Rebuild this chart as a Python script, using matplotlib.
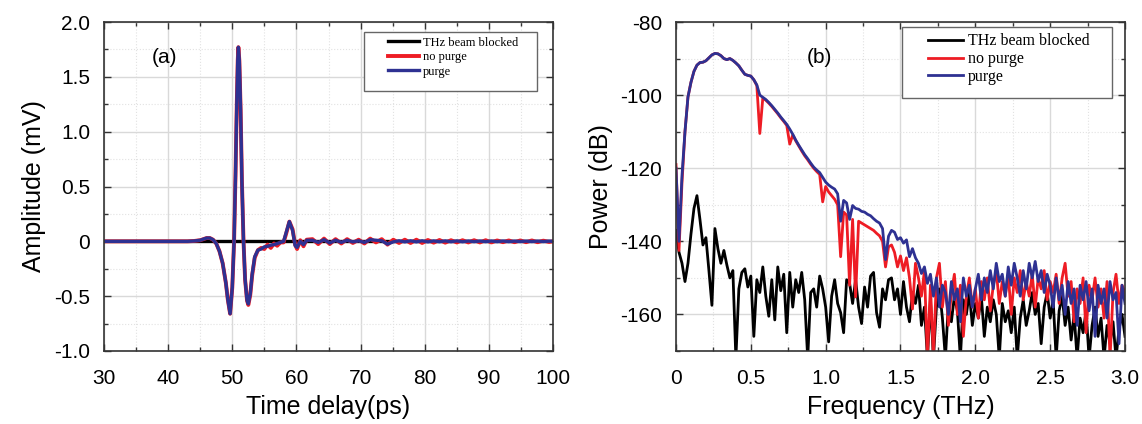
import numpy as np
import matplotlib.pyplot as plt
from matplotlib.ticker import MultipleLocator, FuncFormatter
from matplotlib.patches import Rectangle

plt.rcParams['font.family'] = ['Liberation Sans', 'DejaVu Sans']
plt.rcParams['axes.unicode_minus'] = False

# ---------- (a) time domain ----------
t_ps = [30, 40, 43, 44, 45, 45.5, 46, 46.5, 47, 47.5, 48, 48.5, 49, 49.3, 49.66, 50.0,
        50.28, 50.5, 50.7, 50.85, 50.95, 51.1, 51.3, 51.5, 51.75, 52.0, 52.3, 52.5, 52.8,
        53.1, 53.5, 54.0, 54.5, 55.0, 55.5, 56.0, 56.5, 57.0, 57.5, 58.0, 58.4, 58.9,
        59.4, 59.8, 60.1, 60.6, 61.1, 61.6,
        62.5, 63.4, 64.3, 65.2, 66.1, 67.0, 67.9, 68.8, 69.7, 70.6, 71.5, 72.4, 73.3,
        74.2, 75.1, 76.0, 76.9, 77.8, 78.7, 79.6, 80.5, 81.4, 82.3, 83.2, 84.1, 85.0,
        85.9, 86.8, 87.7, 88.6, 89.5, 90.4, 91.3, 92.2, 93.1, 94.0, 94.9, 95.8, 96.7,
        97.6, 98.5, 99.4, 100.0]

amp_purge = [0, 0, 0, 0.003, 0.01, 0.02, 0.03, 0.03, 0.015, -0.02, -0.09, -0.2, -0.38,
             -0.53, -0.66, -0.42, 0.0, 0.6, 1.25, 1.65, 1.77, 1.65, 1.2, 0.55, 0.0, -0.35,
             -0.54, -0.57, -0.48, -0.3, -0.14, -0.08, -0.07, -0.05, -0.045, -0.035, -0.03,
             -0.02, -0.01, 0.0, 0.08, 0.18, 0.1, -0.04, -0.055, 0.0, -0.03, 0.01,
             0.01, -0.01, 0.015, -0.015, 0.01, -0.01, 0.01, -0.005, 0.005, -0.01, 0.015,
             0.01, 0.005, -0.025, -0.005, 0.005, -0.005, 0.005, -0.005, 0.005, -0.005,
             0.004, -0.004, 0.004, -0.004, 0.004, -0.004, 0.003, -0.003, 0.003, -0.003,
             0.003, -0.003, 0.003, -0.003, 0.002, -0.002, 0.002, -0.002, 0.002, -0.002,
             0.002, 0.0]

amp_nopurge = [0, 0, 0, 0.003, 0.01, 0.02, 0.03, 0.03, 0.015, -0.02, -0.09, -0.2, -0.38,
               -0.53, -0.66, -0.42, 0.0, 0.6, 1.25, 1.65, 1.77, 1.65, 1.2, 0.55, 0.0, -0.35,
               -0.54, -0.58, -0.49, -0.31, -0.15, -0.08, -0.06, -0.07, -0.03, -0.06, -0.02,
               -0.04, -0.01, -0.01, 0.07, 0.18, 0.11, -0.03, -0.07, 0.01, -0.045, 0.015,
               0.02, -0.025, 0.025, -0.025, 0.02, -0.02, 0.02, -0.015, 0.015, -0.02, 0.025,
               -0.01, 0.02, -0.03, 0.015, -0.015, 0.015, -0.015, 0.015, -0.015, 0.012,
               -0.012, 0.012, -0.012, 0.01, -0.01, 0.01, -0.01, 0.01, -0.01, 0.01, -0.01,
               0.008, -0.008, 0.008, -0.008, 0.008, -0.008, 0.008, -0.008, 0.006, -0.006,
               0.0]

t_blocked = [30, 100]
amp_blocked = [0, 0]

# ---------- (b) spectrum ----------
freq_thz = [round(0.02 * i, 2) for i in range(151)]

pow_purge = [-120, -140, -122, -110, -100.5, -96.5, -93.5, -91.8, -91.1, -91.0,
             -90.6, -89.8, -89.0, -88.6, -88.7, -89.2, -90.0, -90.3, -90.0, -90.5,
             -91.2, -92.0, -93.2, -94.3, -94.6, -94.8, -95.8, -97.2, -100.0, -100.6,
             -101.2, -102.0, -102.9, -103.9, -104.9, -106.0, -107.0, -108.0, -109.3, -110.7,
             -112.3, -113.7, -115.0, -116.3, -117.4, -118.6, -119.7, -120.5, -121.2, -122.5,
             -123.8, -124.6, -125.2, -125.7, -127.0, -134.5, -128.8, -129.5, -134.0, -130.2,
             -131.0, -131.2, -131.8, -132.0, -132.6, -133.0, -133.8, -134.5, -135.0, -136.5,
             -145.0, -138.6, -137.0, -137.5, -139.5, -139.0, -140.5, -139.6, -144.2, -142.0,
             -144.5, -146.0, -148.8, -147.0, -151.5, -149.0, -155, -150, -158, -152,
             -154, -160, -151, -156, -153, -162, -150, -155, -152, -158,
             -153, -149, -156, -150, -154, -148, -153, -146, -151, -149,
             -155, -147, -152, -146, -150, -155, -148, -153, -146, -150,
             -145.5, -151, -148, -154, -149, -152, -158, -150, -156, -152,
             -160, -151, -157, -153, -163, -152, -156, -151, -159, -153,
             -166, -152, -157, -153, -161, -151, -156, -154, -168, -152, -157]

pow_nopurge = [-119, -142.5, -124, -110, -100.5, -96.5, -93.5, -91.8, -91.1, -91.0,
               -90.6, -89.8, -89.0, -88.6, -88.7, -89.2, -90.0, -90.3, -90.0, -90.5,
               -91.2, -92.0, -93.2, -94.3, -94.6, -94.8, -95.8, -97.4, -110.5, -100.8,
               -101.4, -102.2, -103.1, -104.1, -105.1, -106.2, -107.2, -108.3, -113.4, -110.9,
               -112.5, -113.9, -115.3, -116.6, -117.7, -118.9, -120.0, -120.9, -121.7, -129.2,
               -125.0, -126.5, -127.5, -128.5, -130.0, -144.2, -132.0, -132.8, -152.0, -134.0,
               -155.2, -134.5, -135.0, -135.5, -136.0, -136.5, -137.0, -137.8, -138.5, -140.0,
               -147.0, -141.5, -141.0, -143.0, -147.0, -144.0, -148.0, -144.5, -150.0, -158.5,
               -146.0, -150.0, -155.0, -148.0, -172.0, -152.0, -172.0, -150.0, -146.0, -158.0,
               -151, -163, -154, -149, -160, -152, -166, -155, -150, -158,
               -153, -161, -151, -156, -150, -159, -152, -148, -157, -151,
               -155, -149, -160, -150, -154, -148, -156, -151, -155, -149,
               -158, -150, -153, -148, -156, -151, -154, -149, -157, -150,
               -146, -155, -151, -162, -153, -157, -150, -165, -152, -156,
               -150, -158, -153, -161, -151, -172, -154, -149, -157, -152, -154]

pow_blocked = [-137, -143, -146, -151, -146, -138, -131, -127.5, -134, -141,
               -139, -148, -157.5, -136.5, -142, -146, -142.5, -146.5, -150, -148,
               -172, -153, -148.5, -147.5, -152.5, -149.5, -166, -150.5, -154, -147,
               -155, -160.5, -150.5, -161.5, -147, -153.5, -149, -165, -148.5, -158,
               -150.5, -154, -148.5, -156, -172, -154, -153, -158, -149.5, -153,
               -158, -167.5, -155, -150.5, -157, -159.5, -165, -150.5, -151.5, -157,
               -150.5, -158, -162.5, -152.5, -158, -149.5, -148.5, -159.5, -163.5, -153,
               -156, -150.5, -150, -156, -153, -160, -151, -158, -162, -154,
               -157, -152, -163, -158, -172, -156, -172, -158, -153, -161,
               -172, -157, -162, -155, -159, -172, -156, -160, -154, -163,
               -157, -161, -155, -166, -158, -162, -156, -160, -172, -157,
               -162, -159, -165, -158, -172, -161, -156, -163, -159, -154,
               -160, -157, -168, -158, -154, -161, -156, -172, -159, -155,
               -163, -158, -167, -160, -172, -161, -165, -159, -172, -163,
               -158, -166, -161, -172, -163, -168, -162, -172, -164, -160, -166]

labels = ["THz beam blocked", "no purge", "purge"]
c_black, c_red, c_blue = "#000000", "#ee1c24", "#2e3192"

fig = plt.figure(figsize=(11.42, 4.24), dpi=100)
ax1 = fig.add_axes([104 / 1142, 1 - 351 / 424, 449 / 1142, 329 / 424])
ax2 = fig.add_axes([676 / 1142, 1 - 351 / 424, 449 / 1142, 329 / 424])


def style_axes(ax):
    ax.grid(which="major", color="#d9d9d9", lw=1.0, ls="-")
    ax.grid(which="minor", color="#e2e2e2", lw=0.8, ls=":")
    ax.set_axisbelow(True)
    ax.tick_params(which="both", direction="in", top=True, right=True, labelsize=15,
                   color="#333333", width=1.0)
    ax.tick_params(which="major", length=5)
    ax.tick_params(which="minor", length=3)
    ax.tick_params(axis="x", pad=13)
    ax.tick_params(axis="y", pad=10)
    for s in ax.spines.values():
        s.set_linewidth(1.2)
        s.set_color("#333333")


def add_legend(ax, handles, box, anchor, fs, ls, hl):
    x0, y0, x1, y1 = box
    ax.add_patch(Rectangle((x0, y0), x1 - x0, y1 - y0, transform=ax.transAxes,
                           facecolor="white", edgecolor="#666666", lw=1.0, zorder=4))
    leg = ax.legend(handles, labels, loc="upper left", bbox_to_anchor=anchor,
                    frameon=False, borderpad=0, borderaxespad=0, handlelength=hl,
                    handletextpad=0.3, labelspacing=ls,
                    prop={"family": ["Liberation Serif", "DejaVu Serif"], "size": fs})
    leg.set_zorder(5)


# (a)
la, = ax1.plot(t_blocked, amp_blocked, color=c_black, lw=2.4)
lb, = ax1.plot(t_ps, amp_nopurge, color=c_red, lw=2.8)
lc, = ax1.plot(t_ps, amp_purge, color=c_blue, lw=2.4)
ax1.set_xlim(30, 100)
ax1.set_ylim(-1.0, 2.0)
ax1.xaxis.set_major_locator(MultipleLocator(10))
ax1.xaxis.set_minor_locator(MultipleLocator(5))
ax1.yaxis.set_major_locator(MultipleLocator(0.5))
ax1.yaxis.set_minor_locator(MultipleLocator(0.25))
ax1.yaxis.set_major_formatter(FuncFormatter(lambda v, p: "0" if abs(v) < 1e-9 else f"{v:.1f}"))
style_axes(ax1)
ax1.set_xlabel("Time delay(ps)", fontsize=18, labelpad=5)
ax1.set_ylabel("Amplitude (mV)", fontsize=18, labelpad=6)
ax1.text(39.5, 1.68, "(a)", fontsize=15, ha="center", va="center")
add_legend(ax1, [la, lb, lc], (0.579, 0.790, 0.964, 0.970), (0.633, 0.955), 9, 0.2, 2.5)

# (b)
ma, = ax2.plot(freq_thz, pow_blocked, color=c_black, lw=2.0)
mb, = ax2.plot(freq_thz, pow_nopurge, color=c_red, lw=2.0)
mc, = ax2.plot(freq_thz, pow_purge, color=c_blue, lw=2.0)
ax2.set_xlim(0, 3.0)
ax2.set_ylim(-170, -80)
ax2.xaxis.set_major_locator(MultipleLocator(0.5))
ax2.xaxis.set_minor_locator(MultipleLocator(0.25))
ax2.yaxis.set_major_locator(MultipleLocator(20))
ax2.yaxis.set_minor_locator(MultipleLocator(10))
ax2.xaxis.set_major_formatter(FuncFormatter(lambda v, p: "0" if abs(v) < 1e-9 else f"{v:.1f}"))
style_axes(ax2)
ax2.set_xlabel("Frequency (THz)", fontsize=18, labelpad=5)
ax2.set_ylabel("Power (dB)", fontsize=18, labelpad=5)
ax2.text(0.96, -89.6, "(b)", fontsize=15, ha="center", va="center")
add_legend(ax2, [ma, mb, mc], (0.503, 0.769, 0.971, 0.985), (0.561, 0.966), 11.5, 0.12, 2.2)

fig.savefig("out.png", dpi=100)
